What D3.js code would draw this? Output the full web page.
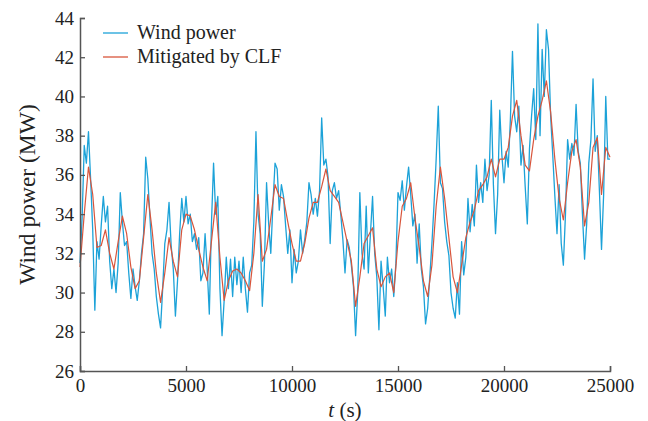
<!DOCTYPE html>
<html><head><meta charset="utf-8">
<script src="https://cdn.jsdelivr.net/npm/d3@7"></script>
<style>html,body{margin:0;padding:0;background:#fff;}svg{display:block;}</style>
</head><body><svg id="c" width="648" height="421"></svg>
<script>
// Data
const windStep = 100; // s
const windPower = [
31.5,33.8,37.5,36.6,38.2,35.8,33.2,29.1,32.6,31.7,
33.4,34.9,33.6,34.4,31.6,30.2,31.2,30.0,31.5,35.1,
33.6,32.4,32.6,31.0,29.7,31.2,30.3,29.6,30.6,32.0,
33.0,36.9,35.8,33.8,32.0,31.2,29.8,28.9,28.2,30.2,
32.5,33.2,34.6,32.4,31.2,28.8,30.6,33.0,34.8,33.6,
34.9,33.5,34.0,32.6,33.0,32.2,32.8,30.6,31.0,33.0,
31.2,28.9,33.5,36.6,34.0,34.9,30.2,27.8,29.6,31.8,
30.2,31.7,29.8,31.8,30.4,31.6,30.0,31.8,30.2,29.0,
31.0,31.4,33.6,38.2,34.0,33.0,29.3,31.5,35.6,33.5,
32.0,34.5,36.6,36.3,34.2,35.5,34.9,33.4,32.0,33.2,
30.5,32.2,31.0,31.6,33.2,32.0,32.7,33.6,35.6,35.0,
34.0,34.8,33.9,35.2,38.9,36.5,36.8,35.9,32.5,35.2,
35.6,34.8,35.2,34.0,32.7,31.0,32.7,32.3,31.4,30.3,
27.8,30.0,35.1,32.0,31.2,34.4,31.0,33.0,34.9,32.0,
30.8,28.1,31.6,30.3,28.8,31.8,30.5,31.2,29.8,31.5,
35.1,34.7,35.7,34.2,35.4,36.4,35.0,33.4,34.0,31.5,
33.5,31.2,30.3,28.4,29.2,30.8,32.5,34.5,36.8,39.5,
35.6,35.3,33.6,32.6,31.9,30.0,29.2,28.7,30.5,28.9,
32.6,30.9,31.8,34.8,33.1,34.5,33.4,36.5,34.6,35.6,
34.6,36.8,35.2,36.0,39.8,35.5,33.0,35.0,39.3,37.0,
35.6,37.2,36.4,38.8,42.3,39.0,38.2,39.5,36.5,37.5,
35.4,33.5,37.3,39.0,40.4,37.8,43.7,38.0,42.4,40.0,
43.4,42.4,39.0,37.0,34.9,33.0,35.5,32.5,31.4,34.0,
37.8,36.8,37.6,37.0,39.6,37.2,36.6,34.0,31.7,33.5,
36.6,37.8,40.9,37.2,38.0,35.2,32.2,35.0,40.0,36.8,
36.8
];
const clfStep = 200; // s
const mitigatedCLF = [
31.3,34.0,36.4,35.0,32.3,32.4,33.2,32.0,31.2,32.6,
33.9,33.0,31.3,30.2,30.6,32.8,35.0,33.2,31.0,29.5,
31.0,32.8,31.6,30.8,33.2,34.0,33.9,33.2,32.2,31.3,
30.6,32.6,34.6,31.8,29.6,30.6,31.1,31.2,31.0,30.6,
30.1,32.0,35.0,31.6,32.2,33.8,35.5,34.9,34.8,33.6,
32.5,31.6,31.6,32.5,33.8,34.6,34.6,35.4,36.3,35.2,
34.9,34.6,33.6,32.6,31.6,29.3,30.8,32.5,32.9,33.3,
31.2,30.3,30.8,31.0,30.0,32.6,34.4,34.8,35.6,33.8,
32.3,30.6,29.8,31.4,34.4,36.4,34.8,32.8,30.8,30.0,
31.4,32.8,33.6,34.2,35.2,35.5,35.9,36.8,35.9,36.8,
36.8,37.4,39.0,39.8,38.0,36.5,36.2,37.8,39.0,39.8,
40.8,39.2,36.8,34.8,33.7,35.6,37.2,37.8,36.4,33.4,
34.6,37.4,37.9,35.0,37.4,36.9
];
const xTicks = [0,5000,10000,15000,20000,25000];
const yTicks = [26,28,30,32,34,36,38,40,42,44];
const seriesNames = ["Wind power","Mitigated by CLF"];
const seriesColors = ["#1ca2d8","#d8553c"];

const svg = d3.select("#c");
const m = {l:80, r:38, t:18, b:50};
const W = 648, H = 421;
const x = d3.scaleLinear().domain([0,25000]).range([m.l, W-m.r]);
const y = d3.scaleLinear().domain([26,44]).range([H-m.b, m.t]);
const axisColor = "#555";
const font = "'Liberation Serif','Times New Roman',serif";

const line = d3.line().x(d=>x(d[0])).y(d=>y(d[1]));
const blue = windPower.map((v,i)=>[i*windStep,v]);
const red = mitigatedCLF.map((v,i)=>[i*clfStep,v]);

svg.append("path").datum(blue).attr("d",line).attr("fill","none")
  .attr("stroke",seriesColors[0]).attr("stroke-width",1.3).attr("stroke-linejoin","round");
svg.append("path").datum(red).attr("d",line).attr("fill","none")
  .attr("stroke",seriesColors[1]).attr("stroke-width",1.2).attr("stroke-linejoin","round");

// axes
const xa = svg.append("g").attr("transform",`translate(0,${H-m.b})`)
  .call(d3.axisBottom(x).tickValues(xTicks).tickSize(-5).tickPadding(8).tickFormat(d3.format("d")));
const ya = svg.append("g").attr("transform",`translate(${m.l},0)`)
  .call(d3.axisLeft(y).tickValues(yTicks).tickSize(-5).tickPadding(6));
[xa,ya].forEach(g=>{
  g.select(".domain").attr("stroke",axisColor).attr("stroke-width",1.5);
  g.selectAll(".tick line").attr("stroke",axisColor).attr("stroke-width",1.3);
  g.selectAll("text").attr("fill","#222").style("font-family",font).style("font-size","19px");
});

// labels
svg.append("text").attr("transform",`translate(35,${(m.t+H-m.b)/2}) rotate(-90)`)
  .attr("text-anchor","middle").style("font-family",font).style("font-size","23.5px").attr("fill","#222")
  .text("Wind power (MW)");
const xl = svg.append("text").attr("x",(m.l+W-m.r)/2).attr("y",417).attr("text-anchor","middle")
  .style("font-family",font).style("font-size","21px").attr("fill","#222");
xl.append("tspan").style("font-style","italic").text("t");
xl.append("tspan").text(" (s)");

// legend
const lg = svg.append("g");
seriesNames.forEach((n,i)=>{
  const yy = 33 + i*24;
  lg.append("line").attr("x1",103).attr("x2",128).attr("y1",yy).attr("y2",yy)
    .attr("stroke",seriesColors[i]).attr("stroke-width",1.3);
  lg.append("text").attr("x",137).attr("y",yy+6).style("font-family",font).style("font-size","20px")
    .attr("fill","#222").text(n);
});
</script></body></html>
